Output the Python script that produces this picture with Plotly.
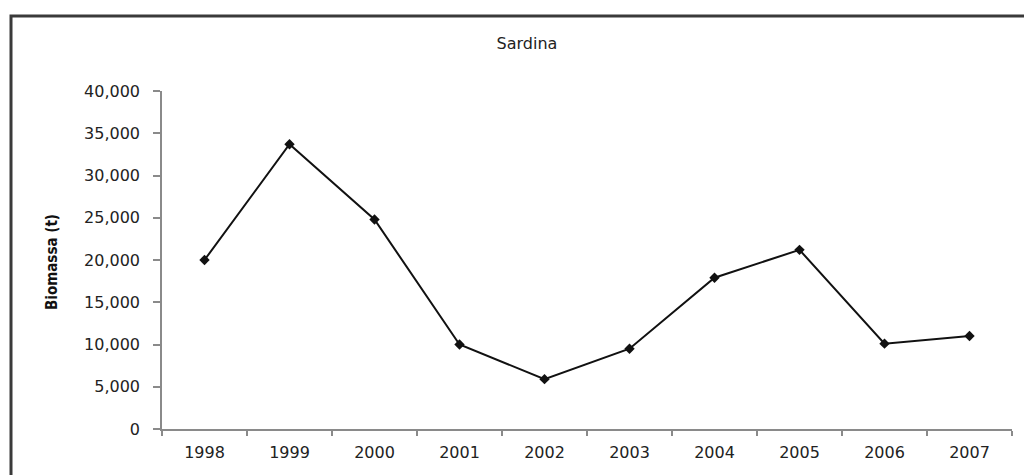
import plotly.graph_objects as go

years = ["1998", "1999", "2000", "2001", "2002", "2003", "2004", "2005", "2006", "2007"]
biomassa = [20000, 33700, 24800, 10000, 5900, 9500, 17900, 21200, 10100, 11000]
y_ticks = [0, 5000, 10000, 15000, 20000, 25000, 30000, 35000, 40000]
chart_title = "Sardina"
y_title = "Biomassa (t)"

W, H = 1024, 475
L, R, T, B = 162, 12, 91, 46
pw = W - L - R
ph = H - T - B

def px_x(p):
    return (p - L) / pw

def px_y(p):
    return (H - B - p) / ph

fig = go.Figure()
fig.add_trace(go.Scatter(
    x=years, y=biomassa, mode="lines+markers",
    line=dict(color="#111111", width=2),
    marker=dict(symbol="diamond", size=8, color="#111111"),
    showlegend=False, hoverinfo="x+y",
))

fig.update_layout(
    width=W, height=H,
    margin=dict(l=L, r=R, t=T, b=B),
    paper_bgcolor="white", plot_bgcolor="white",
    font=dict(family="DejaVu Sans, Verdana, sans-serif", size=16, color="#222222"),
    title=dict(text=chart_title, x=px_x(527), xref="paper", xanchor="center",
               y=1 - 43 / H, yref="container", yanchor="middle",
               font=dict(size=16, color="#222222")),
    xaxis=dict(type="category", range=[-0.5, 9.5], showgrid=False, zeroline=False,
               showline=True, linecolor="#8a8a8a", linewidth=1.5,
               ticks="outside", tickson="boundaries", ticklen=5, tickcolor="#8a8a8a",
               tickwidth=1.5, ticklabelstandoff=8, fixedrange=True),
    yaxis=dict(range=[0, 40000], tickvals=y_ticks, tickformat=",", showgrid=False,
               zeroline=False, showline=True, linecolor="#8a8a8a", linewidth=1.5,
               ticks="outside", ticklen=7, tickcolor="#8a8a8a", tickwidth=1.5,
               ticklabelstandoff=10, fixedrange=True),
    shapes=[dict(type="rect", xref="paper", yref="paper",
                 x0=px_x(11), x1=px_x(1046), y0=px_y(500), y1=px_y(16),
                 line=dict(color="#3a3a3a", width=3), fillcolor="rgba(0,0,0,0)",
                 layer="below")],
    annotations=[dict(text="<b>" + y_title + "</b>", xref="paper", yref="paper",
                      x=px_x(52), y=px_y(262), showarrow=False, textangle=-90,
                      xanchor="center", yanchor="middle",
                      font=dict(family="Liberation Sans Narrow, Arial Narrow, DejaVu Sans Condensed, sans-serif",
                                size=15, color="#111111"))],
)

fig.write_html("out.html", config={"displayModeBar": False},
               post_script="document.body.style.margin='0';document.body.style.overflow='hidden';")
